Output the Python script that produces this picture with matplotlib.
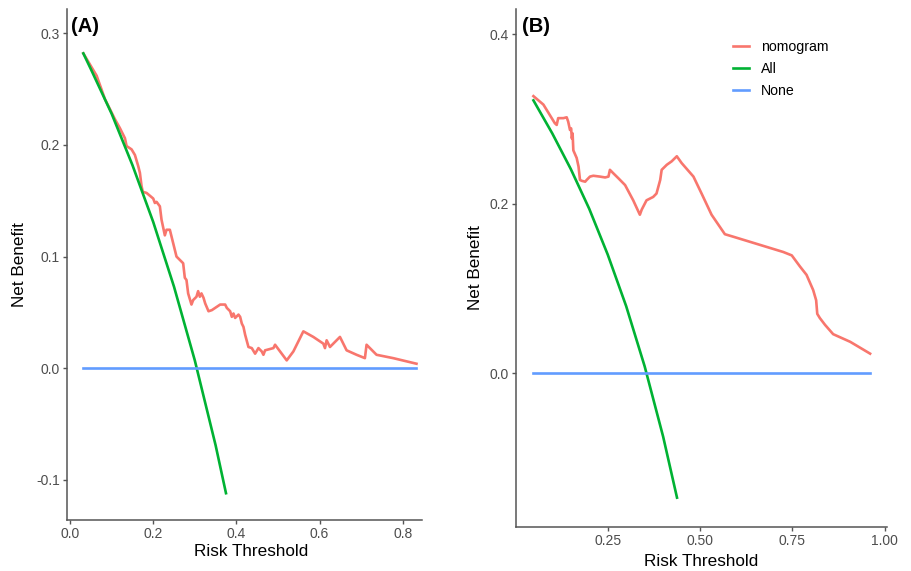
import matplotlib.pyplot as plt
from matplotlib.lines import Line2D

plt.rcParams["font.family"] = ["Liberation Sans", "DejaVu Sans"]

# === DATA: panel A ===
a_model_x = [0.032, 0.064, 0.084, 0.108, 0.120, 0.132, 0.136, 0.148, 0.156, 0.164,
             0.168, 0.172, 0.175, 0.184, 0.200, 0.204, 0.208, 0.216, 0.220, 0.228,
             0.232, 0.240, 0.244, 0.252, 0.256, 0.272, 0.276, 0.280, 0.284, 0.292,
             0.296, 0.304, 0.308, 0.312, 0.316, 0.321, 0.325, 0.333, 0.341, 0.361,
             0.373, 0.377, 0.385, 0.389, 0.393, 0.397, 0.405, 0.409, 0.413, 0.417,
             0.421, 0.429, 0.437, 0.445, 0.453, 0.461, 0.465, 0.469, 0.489, 0.493,
             0.505, 0.521, 0.537, 0.545, 0.561, 0.585, 0.609, 0.613, 0.617, 0.625,
             0.649, 0.665, 0.689, 0.709, 0.713, 0.721, 0.737, 0.777, 0.833]
a_model_y = [0.282, 0.262, 0.241, 0.223, 0.215, 0.206, 0.199, 0.196, 0.191, 0.181,
             0.175, 0.163, 0.158, 0.157, 0.152, 0.148, 0.149, 0.145, 0.133, 0.119,
             0.124, 0.124, 0.118, 0.106, 0.100, 0.094, 0.081, 0.079, 0.067, 0.057,
             0.061, 0.064, 0.069, 0.064, 0.067, 0.063, 0.058, 0.051, 0.052, 0.057,
             0.057, 0.054, 0.051, 0.046, 0.049, 0.045, 0.048, 0.046, 0.040, 0.037,
             0.030, 0.019, 0.018, 0.013, 0.018, 0.015, 0.012, 0.016, 0.018, 0.021,
             0.015, 0.007, 0.015, 0.021, 0.033, 0.028, 0.022, 0.018, 0.025, 0.019,
             0.028, 0.016, 0.012, 0.009, 0.021, 0.018, 0.012, 0.009, 0.004]
a_all_x = [0.032, 0.05, 0.10, 0.15, 0.20, 0.25, 0.30, 0.35, 0.375]
a_all_y = [0.282, 0.268, 0.228, 0.182, 0.131, 0.073, 0.007, -0.069, -0.112]
a_none_x = [0.032, 0.833]
a_none_y = [0.0, 0.0]

# === DATA: panel B ===
b_model_x = [0.049, 0.076, 0.107, 0.112, 0.116, 0.130, 0.139, 0.143, 0.148, 0.151,
             0.153, 0.155, 0.157, 0.162, 0.166, 0.171, 0.175, 0.180, 0.189, 0.193,
             0.202, 0.211, 0.229, 0.243, 0.252, 0.256, 0.265, 0.279, 0.297, 0.319,
             0.337, 0.342, 0.355, 0.373, 0.382, 0.392, 0.396, 0.410, 0.423, 0.437,
             0.450, 0.464, 0.482, 0.504, 0.531, 0.567, 0.590, 0.635, 0.680, 0.725,
             0.748, 0.770, 0.788, 0.806, 0.814, 0.817, 0.824, 0.838, 0.860, 0.906,
             0.960]
b_model_y = [0.327, 0.317, 0.295, 0.293, 0.301, 0.301, 0.302, 0.297, 0.287, 0.289,
             0.277, 0.283, 0.263, 0.258, 0.254, 0.244, 0.228, 0.227, 0.226, 0.228,
             0.232, 0.233, 0.232, 0.231, 0.232, 0.240, 0.236, 0.230, 0.222, 0.204,
             0.187, 0.193, 0.204, 0.208, 0.212, 0.228, 0.240, 0.246, 0.250, 0.256,
             0.248, 0.241, 0.232, 0.212, 0.187, 0.164, 0.161, 0.155, 0.149, 0.143,
             0.139, 0.126, 0.116, 0.098, 0.086, 0.070, 0.065, 0.057, 0.046, 0.037,
             0.023]
b_all_x = [0.049, 0.10, 0.15, 0.20, 0.25, 0.30, 0.35, 0.40, 0.4375]
b_all_y = [0.322, 0.283, 0.241, 0.194, 0.140, 0.079, 0.008, -0.075, -0.147]
b_none_x = [0.049, 0.960]
b_none_y = [0.0, 0.0]

a_xticks = [0.0, 0.2, 0.4, 0.6, 0.8]
a_yticks = [-0.1, 0.0, 0.1, 0.2, 0.3]
b_xticks = [0.25, 0.50, 0.75, 1.00]
b_yticks = [0.0, 0.2, 0.4]

series_names = ["nomogram", "All", "None"]
COLORS = {"nomogram": "#F8766D", "All": "#00B233", "None": "#619CFF"}

W, H = 911, 571
fig = plt.figure(figsize=(W / 100, H / 100), dpi=100)


def px_axes(left, top, right, bottom):
    return fig.add_axes([left / W, 1 - bottom / H, (right - left) / W, (bottom - top) / H])


def style_axes(ax, xticks, yticks, xfmt, yfmt):
    for side in ("top", "right"):
        ax.spines[side].set_visible(False)
    for side in ("left", "bottom"):
        ax.spines[side].set_color("#555555")
        ax.spines[side].set_linewidth(1.1)
    ax.set_xticks(xticks)
    ax.set_xticklabels([xfmt.format(v) for v in xticks])
    ax.set_yticks(yticks)
    ax.set_yticklabels([yfmt.format(v) for v in yticks])
    ax.tick_params(colors="#555555", labelcolor="#4D4D4D", labelsize=10,
                   length=3, width=1.0, pad=2)


lw = 1.9

# Panel A
axA = px_axes(66.7, 9.3, 422.3, 520)
axA.plot(a_model_x, a_model_y, color=COLORS["nomogram"], lw=lw)
axA.plot(a_all_x, a_all_y, color=COLORS["All"], lw=lw)
axA.plot(a_none_x, a_none_y, color=COLORS["None"], lw=lw)
axA.set_xlim(-0.008, 0.847)
axA.set_ylim(-0.136, 0.3215)
style_axes(axA, a_xticks, a_yticks, "{:.1f}", "{:.1f}")

# Panel B
axB = px_axes(515.5, 9.3, 887, 527.3)
axB.plot(b_model_x, b_model_y, color=COLORS["nomogram"], lw=lw)
axB.plot(b_all_x, b_all_y, color=COLORS["All"], lw=lw)
axB.plot(b_none_x, b_none_y, color=COLORS["None"], lw=lw)
axB.set_xlim(0.0005, 1.0057)
axB.set_ylim(-0.182, 0.4295)
style_axes(axB, b_xticks, b_yticks, "{:.2f}", "{:.1f}")

# labels
fig.text(251.5 / W, 1 - 552 / H, "Risk Threshold", ha="center", va="center", fontsize=12.3)
fig.text(701.5 / W, 1 - 561 / H, "Risk Threshold", ha="center", va="center", fontsize=12.3)
fig.text(20 / W, 1 - 264.6 / H, "Net Benefit", ha="center", va="center",
         rotation=90, fontsize=12.3)
fig.text(476 / W, 1 - 268 / H, "Net Benefit", ha="center", va="center",
         rotation=90, fontsize=12.3)
fig.text(71 / W, 1 - 26 / H, "(A)", ha="left", va="center", fontsize=14.5, fontweight="bold")
fig.text(522 / W, 1 - 26.5 / H, "(B)", ha="left", va="center", fontsize=14.5, fontweight="bold")

handles = [Line2D([0], [0], color=COLORS[n], lw=lw) for n in series_names]
fig.legend(handles, series_names, loc="upper left", bbox_to_anchor=(733 / W, 1 - 40 / H),
           bbox_transform=fig.transFigure, frameon=False, fontsize=10.2,
           borderpad=0, borderaxespad=0, handlelength=1.13, handletextpad=0.82,
           labelspacing=0.55)

fig.savefig("out.png", dpi=100)
